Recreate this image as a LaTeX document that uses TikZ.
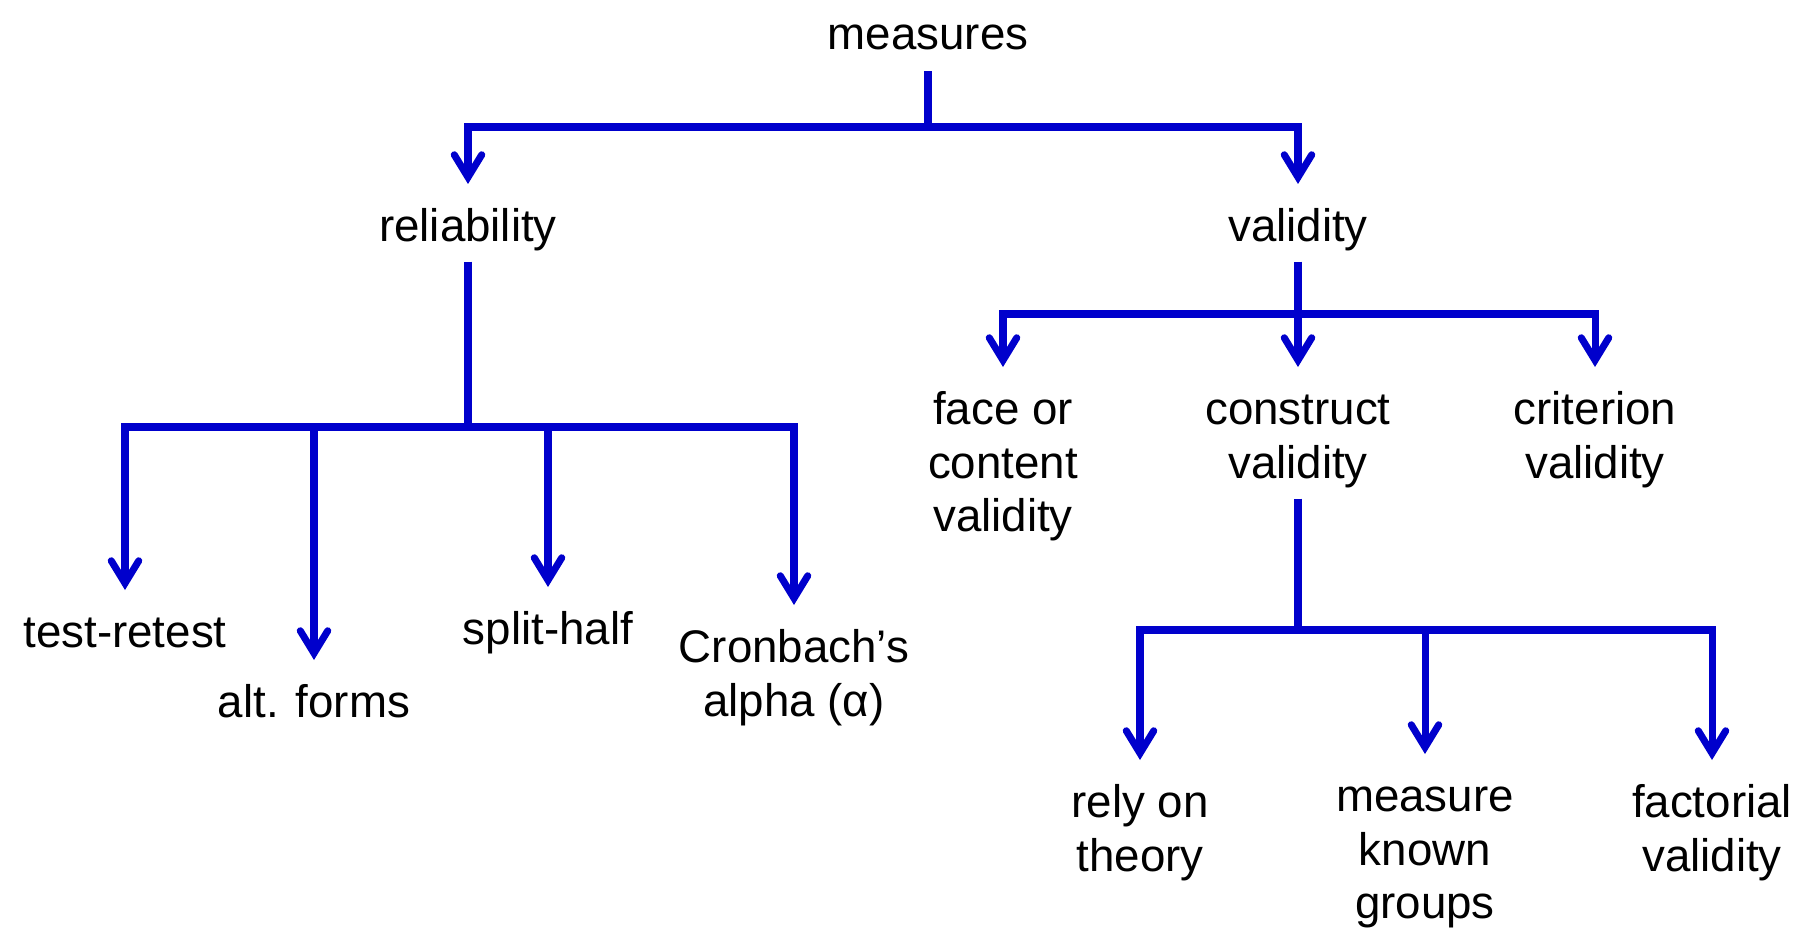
\documentclass[tikz,border=0pt]{standalone}
\usepackage{fontspec}
\setmainfont{Liberation Sans}
\usetikzlibrary{arrows.meta}
\definecolor{treeblue}{RGB}{0,0,204}
\begin{document}
\begin{tikzpicture}[x=0.02cm, y=-0.02cm]
  \tikzset{Label/.style={align=center, inner sep=0pt, anchor=north,
             font=\fontsize{26}{30.7}\selectfont},
           Branch/.style={draw=treeblue, line width=4pt},
           Arrow/.style={Branch, -{Straight Barb[length=0.45cm,width=0.55cm,line cap=round]}, shorten >=0.38cm}}
  \useasboundingbox (0,0) rectangle (1806,945);
  % top level
  \node[Label,anchor=center] (meas) at (928,39) {\strut measures};
  \node[Label] (rel) at (468,203) {\strut reliability};
  \node[Label] (val) at (1298,203) {\strut validity};
  % reliability
  \node[Label] (tr) at (125,609) {\strut test-retest};
  \node[Label] (alt) at (314,679) {\strut alt. forms};
  \node[Label] (split) at (548,606) {\strut split-half};
  \node[Label] (cron) at (794,624) {\strut Cronbach's\\alpha (α)};
  % validity
  \node[Label] (face) at (1003,386) {\strut face or\\content\\validity};
  \node[Label] (cons) at (1298,386) {\strut construct\\validity\strut};
  \node[Label] (crit) at (1595,386) {\strut criterion\\validity};
  \node[Label] (rely) at (1140,779) {\strut rely on\\theory};
  \node[Label] (known) at (1425,773) {\strut measure\\known\\groups};
  \node[Label] (fact) at (1712,779) {\strut factorial\\validity};
  % bars
  \coordinate (measbar) at (928,127);
  \coordinate (relbar) at (468,427);
  \coordinate (valbar) at (1298,314);
  \coordinate (consbar) at (1298,630);
  \draw[Branch, shorten <=0.1cm] (meas.south) -- (measbar);
  \draw[Arrow] (measbar) -| (rel.north);
  \draw[Arrow] (measbar) -| (val.north);
  \draw[Branch, shorten <=0.08cm] (rel.south) -- (relbar);
  \foreach \n in {tr,alt,split,cron}
    \draw[Arrow] (relbar) -| (\n.north);
  \draw[Branch, shorten <=0.08cm] (val.south) -- (valbar);
  \foreach \n in {face,cons,crit}
    \draw[Arrow] (valbar) -| (\n.north);
  \draw[Branch, shorten <=0.08cm] (cons.south) -- (consbar);
  \foreach \n in {rely,known,fact}
    \draw[Arrow] (consbar) -| (\n.north);
\end{tikzpicture}
\end{document}
